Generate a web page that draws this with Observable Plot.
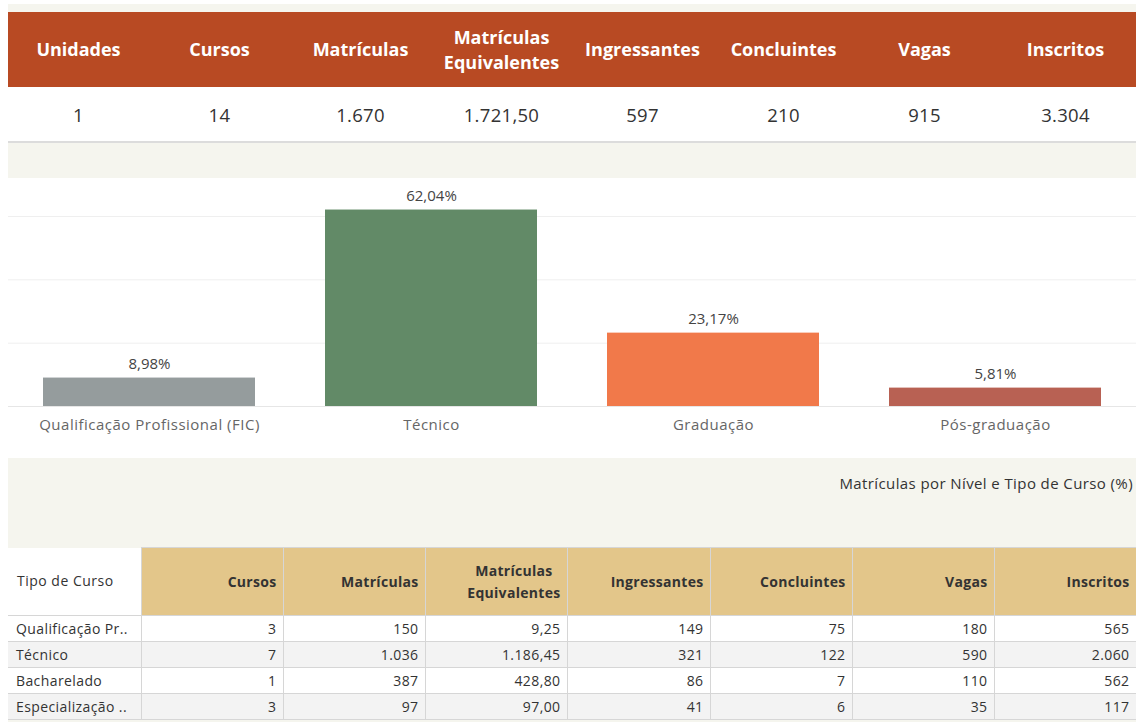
<!DOCTYPE html>
<html>
<head>
<meta charset="utf-8">
<script src="https://cdn.jsdelivr.net/npm/d3@7"></script>
<script src="https://cdn.jsdelivr.net/npm/@observablehq/plot@0.6"></script>
<style>
  html, body { margin: 0; padding: 0; background: #ffffff; }
  body { width: 1136px; height: 722px; overflow: hidden; position: relative; font-family: "Open Sans", "Noto Sans", sans-serif; }
  #dash { position: absolute; left: 8px; top: 4px; width: 1128px; height: 718px; background: #f5f5ee; }
  .abs { position: absolute; left: 0; width: 1128px; }
  #kpiHead { top: 8px; height: 75px; background: #b84a23; display: flex; }
  #kpiHead div { width: 141px; display: flex; align-items: center; justify-content: center; text-align: center; color: #fff; font-weight: 700; font-size: 18px; line-height: 25px; letter-spacing: 0px; }
  #kpiVals { top: 83px; height: 54px; background: #fff; display: flex; border-bottom: 2px solid #dcdcdc; }
  #kpiVals div { width: 141px; display: flex; align-items: center; justify-content: center; color: #333; font-size: 18.5px; letter-spacing: 0.3px; }
  #chart { top: 174px; height: 280px; background: #fff; }
  #caption { top: 469px; height: 22px; text-align: right; font-size: 15px; letter-spacing: 0.4px; color: #333; }
  #caption span { padding-right: 3px; }
  #tbl { top: 543px; }
  table { border-collapse: collapse; table-layout: fixed; font-size: 14px; letter-spacing: 0.4px; color: #333; }
  th, td { border: 1px solid #d6d6d6; padding: 0 6px 0 6px; white-space: nowrap; overflow: hidden; }
  th { height: 67px; background: #e3c68a; font-weight: 700; text-align: right; line-height: 22px; letter-spacing: 0.3px; }
  th.first { background: #fff; font-weight: 400; text-align: left; padding-left: 9px; border-left: none; border-top: none; letter-spacing: 0.5px; }
  th .ml { display: inline-block; text-align: center; }
  td { height: 25px; text-align: right; }
  td.first { text-align: left; padding-left: 8px; border-left: none; }
  tr.alt td { background: #f3f3f3; }
  tr.norm td { background: #fff; }
</style>
</head>
<body>
<div id="dash">
  <div id="kpiHead" class="abs"></div>
  <div id="kpiVals" class="abs"></div>
  <div id="chart" class="abs"></div>
  <div id="caption" class="abs"><span>Matrículas por Nível e Tipo de Curso (%)</span></div>
  <div id="tbl" class="abs"></div>
</div>
<script>
// KPI strip
const kpiLabels = ["Unidades", "Cursos", "Matrículas", "Matrículas\nEquivalentes", "Ingressantes", "Concluintes", "Vagas", "Inscritos"];
const kpiValues = ["1", "14", "1.670", "1.721,50", "597", "210", "915", "3.304"];

// Bar chart
const levels = ["Qualificação Profissional (FIC)", "Técnico", "Graduação", "Pós-graduação"];
const shares = [8.98, 62.04, 23.17, 5.81];
const levelColors = ["#959c9d", "#628a67", "#f1794a", "#b86153"];
const gridTicks = [20, 40, 60];

// Table
const tableColumns = ["Cursos", "Matrículas", "Matrículas\nEquivalentes", "Ingressantes", "Concluintes", "Vagas", "Inscritos"];
const courseTypes = ["Qualificação Pr..", "Técnico", "Bacharelado", "Especialização .."];
const cursos = ["3", "7", "1", "3"];
const matriculas = ["150", "1.036", "387", "97"];
const matriculasEq = ["9,25", "1.186,45", "428,80", "97,00"];
const ingressantes = ["149", "321", "86", "41"];
const concluintes = ["75", "122", "7", "6"];
const vagas = ["180", "590", "110", "35"];
const inscritos = ["565", "2.060", "562", "117"];

// build KPI
const head = document.getElementById("kpiHead");
const vals = document.getElementById("kpiVals");
kpiLabels.forEach((l, i) => {
  const h = document.createElement("div");
  h.innerHTML = l.split("\n").join("<br>");
  head.appendChild(h);
  const v = document.createElement("div");
  v.textContent = kpiValues[i];
  vals.appendChild(v);
});

// chart
const data = levels.map((l, i) => ({level: l, share: shares[i], color: levelColors[i]}));
const fmt = v => v.toFixed(2).replace(".", ",") + "%";
const chart = Plot.plot({
  width: 1128,
  height: 280,
  marginTop: 0,
  marginLeft: 0,
  marginRight: 0,
  marginBottom: 52,
  style: {fontFamily: "'Open Sans', sans-serif", fontSize: "15px", background: "#fff", overflow: "visible"},
  x: {domain: levels, paddingInner: 0.25, paddingOuter: 0.125, label: null, axis: null},
  y: {domain: [0, 72], label: null, axis: null},
  marks: [
    Plot.ruleY(gridTicks, {stroke: "#efefef", strokeWidth: 1}),
    Plot.barY(data, {x: "level", y: "share", fill: "color"}),
    Plot.ruleY([0], {stroke: "#e6e6e6", strokeWidth: 1}),
    Plot.text(data, {x: "level", y: "share", text: d => fmt(d.share), dy: -14, fill: "#444", fontSize: 15, style: {letterSpacing: "0.7px"}}),
    Plot.axisX({tickSize: 0, tickPadding: 13, fontSize: 15, color: "#666", label: null})
  ]
});
chart.querySelectorAll("g[aria-label='x-axis tick label'] text, g[aria-label='x-axis tick label']").forEach(e => e.style.letterSpacing = "0.5px");
document.getElementById("chart").appendChild(chart);

// table
const cols = [cursos, matriculas, matriculasEq, ingressantes, concluintes, vagas, inscritos];
const t = document.createElement("table");
const colg = document.createElement("colgroup");
[133, 142, 142, 142, 143, 142, 142, 142].forEach(w => {
  const c = document.createElement("col"); c.style.width = w + "px"; colg.appendChild(c);
});
t.appendChild(colg);
const hr = document.createElement("tr");
const th0 = document.createElement("th"); th0.className = "first"; th0.textContent = "Tipo de Curso"; hr.appendChild(th0);
tableColumns.forEach(c => {
  const th = document.createElement("th");
  if (c.includes("\n")) th.innerHTML = '<span class="ml">' + c.split("\n").join("<br>") + "</span>";
  else th.textContent = c;
  hr.appendChild(th);
});
t.appendChild(hr);
courseTypes.forEach((ct, r) => {
  const tr = document.createElement("tr");
  tr.className = r % 2 ? "alt" : "norm";
  const td0 = document.createElement("td"); td0.className = "first"; td0.textContent = ct; tr.appendChild(td0);
  cols.forEach(col => { const td = document.createElement("td"); td.textContent = col[r]; tr.appendChild(td); });
  t.appendChild(tr);
});
t.style.width = "1128px";
document.getElementById("tbl").appendChild(t);
</script>
</body>
</html>
